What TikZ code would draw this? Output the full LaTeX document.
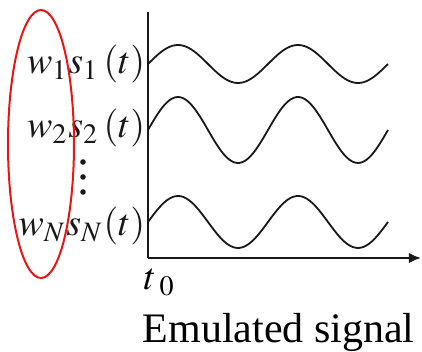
\documentclass[tikz,border=0pt]{standalone}
\usepackage{mathptmx}
\usepackage[no-math]{fontspec}
\setmainfont{Liberation Serif}
\usepackage{tikz}
\usetikzlibrary{arrows.meta, positioning}
\definecolor{myred}{RGB}{235,20,20}
\definecolor{mydark}{RGB}{25,25,25}
\tikzset{
  axisline/.style={line width=0.5pt, color=mydark},
  wave/.style={line width=0.45pt, color=mydark, smooth},
  siglabel/.style={anchor=east, inner sep=0pt, color=mydark,
    font=\fontsize{9.5}{11}\selectfont},
  ring/.style={line width=0.5pt, color=myred}
}

\begin{document}
\begin{tikzpicture}[x=0.25pt, y=-0.25pt]
  \useasboundingbox (0,0) rectangle (422,352);

  % Axes
  \coordinate (origin) at (148,258);
  \coordinate (ytop) at (148,12);
  \coordinate (xend) at (421,258);
  \draw[axisline] (ytop) -- (origin);
  \draw[axisline, -{Latex[length=3pt, width=2.6pt]}] (origin) -- (xend);

  % Sinusoids
  \draw[wave] plot[domain=148:388, samples=90] (\x, {64-19*sin(3*(\x-148))});
  \draw[wave] plot[domain=148:388, samples=90] (\x, {130-33*sin(3*(\x-148))});
  \draw[wave] plot[domain=148:388, samples=90] (\x, {222-26*sin(3*(\x-148))});

  % Weighted signal labels
  \node[siglabel] (lbl1) at (146,64) {$w_{1}s_{1}\,(t)$};
  \node[siglabel] (lbl2) at (146,128) {$w_{2}s_{2}\,(t)$};
  \node[siglabel] (lblN) at (146,226) {$w_{N}s_{N}(t)$};
  \foreach \y in {162,177,192}
    \fill[mydark] (83,\y) circle (2.8);

  % Weights highlight
  \draw[ring] (41,144) ellipse [x radius=33, y radius=134];

  % Time origin and caption
  \node[anchor=base west, inner sep=0pt, font=\fontsize{9.5}{11}\selectfont]
    (tzero) at (143,290) {$t_{\;0}$};
  \node[anchor=base west, inner sep=0pt, font=\fontsize{10.5}{12}\selectfont]
    (caption) at (142,343) {Emulated signal};
\end{tikzpicture}
\end{document}
